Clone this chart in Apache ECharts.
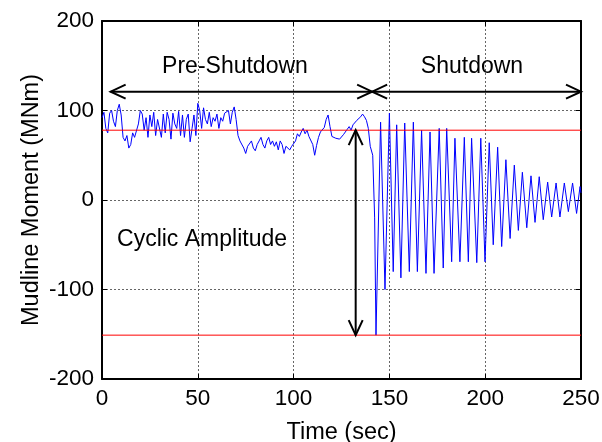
<!DOCTYPE html>
<html>
<head>
<meta charset="utf-8">
<script src="https://cdn.jsdelivr.net/npm/echarts@6/dist/echarts.min.js"></script>
<style>
  html, body { margin: 0; padding: 0; background: #fff; }
  #chart { width: 602px; height: 442px; }
</style>
</head>
<body>
<div id="chart"></div>
<script>
// pre-shutdown moment, one value per second (t = 0..140)
const preValues = [
  92, 98, 80, 75, 97, 100, 88, 82, 100, 107,
  95, 70, 66, 72, 58, 62, 75, 70, 68, 85,
  100, 96, 78, 92, 70, 95, 82, 98, 72, 90,
  92, 70, 96, 75, 98, 90, 68, 97, 85, 80,
  99, 72, 95, 70, 90, 96, 65, 80, 95, 72,
  108, 100, 80, 103, 90, 85, 98, 82, 92, 88,
  96, 80, 92, 88, 97, 95, 100, 85, 98, 104,
  90, 72, 66, 64, 58, 52, 60, 62, 66, 58,
  55, 62, 66, 70, 62, 58, 66, 70, 62, 66,
  60, 65, 56, 66, 62, 52, 60, 62, 56, 60,
  58, 66, 74, 71, 76, 80, 74, 78, 71, 70,
  62, 50, 61, 70, 76, 74, 81, 90, 95, 82,
  71, 72, 69, 70, 68, 70, 73, 75, 79, 82,
  78, 84, 82, 89, 90, 93, 96, 93, 89, 80,
  60
];

// shutdown oscillation: turning points (sec, MNm)
const shutTimes = [
  141.3, 142.3, 143.0, 145.4, 147.7, 150.0, 152.0, 153.8, 156.0, 158.0,
  160.4, 162.5, 164.6, 166.8, 169.1, 171.2, 173.3, 176.0, 178.1, 179.9,
  182.5, 184.2, 186.8, 189.1, 191.2, 192.9, 195.6, 197.7, 199.9, 202.1,
  204.2, 206.5, 208.6, 210.8, 213.0, 215.2, 217.3, 219.4, 221.7, 223.9,
  226.0, 228.2, 230.3, 232.6, 234.7, 237.0, 239.0, 241.3, 243.4, 245.6,
  247.7, 249.5, 250.0
];
const shutValues = [
  50, -20, -151, 87, -100, 97, -80, 84, -87, 86,
  -80, 87, -80, 78, -82, 76, -82, 80, -76, 80,
  -69, 69, -69, 70, -69, 69, -70, 69, -69, 64,
  -50, 59, -52, 45, -43, 39, -34, 31, -31, 27,
  -25, 26, -22, 20, -19, 19, -19, 19, -13, 19,
  -15, 15, 8
];

// reference levels
const meanLevel = 78;
const minLevel = -151;

// annotation arrows [x1, y1, x2, y2]
const arrowSegs = [
  [4.5, 121, 141, 121],
  [141, 121, 250, 121],
  [132.4, 78, 132.4, -151]
];
const noteTexts = ["Pre-Shutdown", "Shutdown", "Cyclic Amplitude"];
const noteX = [69.4, 193.1, 52.2];
const noteY = [148.6, 148.6, -44.7];

const xTicks = [0, 50, 100, 150, 200, 250];
const yTicks = [-200, -100, 0, 100, 200];

let signal = [];
preValues.forEach(function(v, i) {
  signal.push([i, v]);
});
shutTimes.forEach(function(t, i) {
  signal.push([t, shutValues[i]]);
});

const font = "Liberation Sans, Arial, sans-serif";
const myChart = echarts.init(document.getElementById("chart"));

function renderArrow(params, api) {
  let p1 = api.coord([api.value(0), api.value(1)]);
  let p2 = api.coord([api.value(2), api.value(3)]);
  let dx = p2[0] - p1[0];
  let dy = p2[1] - p1[1];
  let len = Math.sqrt(dx * dx + dy * dy);
  let ux = dx / len, uy = dy / len;
  let hl = 15, hw = 7;
  let style = { stroke: "#000", lineWidth: 2, fill: null };
  function head(tip, sx, sy) {
    return {
      type: "polyline",
      shape: {
        points: [
          [tip[0] + sx * hl - uy * hw, tip[1] + sy * hl + ux * hw],
          tip,
          [tip[0] + sx * hl + uy * hw, tip[1] + sy * hl - ux * hw]
        ]
      },
      style: style
    };
  }
  return {
    type: "group",
    children: [
      { type: "line", shape: { x1: p1[0], y1: p1[1], x2: p2[0], y2: p2[1] }, style: style },
      head(p1, ux, uy),
      head(p2, -ux, -uy)
    ]
  };
}

function renderNote(params, api) {
  let p = api.coord([api.value(0), api.value(1)]);
  return {
    type: "text",
    x: p[0],
    y: p[1],
    style: {
      text: noteTexts[params.dataIndex],
      fontSize: 23,
      fontFamily: font,
      fill: "#000",
      align: "center",
      verticalAlign: "middle"
    }
  };
}

let option = {
  backgroundColor: "#fff",
  animation: false,
  grid: { left: 102, right: 21, top: 21, bottom: 63, outerBoundsMode: "none" },
  xAxis: [
    {
      type: "value",
      min: xTicks[0],
      max: xTicks[xTicks.length - 1],
      interval: 50,
      name: "Time (sec)",
      nameLocation: "middle",
      nameGap: 42,
      nameTextStyle: { fontSize: 23.5, fontFamily: font, color: "#000" },
      axisLine: { show: true, onZero: false, lineStyle: { color: "#000", width: 2 } },
      axisTick: { inside: true, length: 5, lineStyle: { color: "#000" } },
      axisLabel: { fontSize: 22.5, fontFamily: font, color: "#000", margin: 8 },
      splitLine: { show: true, lineStyle: { color: "#666", type: [2, 2] } }
    },
    {
      type: "value",
      position: "top",
      min: xTicks[0],
      max: xTicks[xTicks.length - 1],
      interval: 50,
      axisLine: { show: true, onZero: false, lineStyle: { color: "#000", width: 2 } },
      axisTick: { inside: true, length: 5, lineStyle: { color: "#000" } },
      axisLabel: { show: false },
      splitLine: { show: false }
    }
  ],
  yAxis: [
    {
      type: "value",
      min: yTicks[0],
      max: yTicks[yTicks.length - 1],
      interval: 100,
      name: "Mudline Moment (MNm)",
      nameLocation: "middle",
      nameGap: 58,
      nameMoveOverlap: false,
      nameTextStyle: { fontSize: 23.5, fontFamily: font, color: "#000" },
      axisLine: { show: true, onZero: false, lineStyle: { color: "#000", width: 2 } },
      axisTick: { inside: true, length: 5, lineStyle: { color: "#000" } },
      axisLabel: { fontSize: 22.5, fontFamily: font, color: "#000", margin: 8 },
      splitLine: { show: true, lineStyle: { color: "#666", type: [2, 2] } }
    },
    {
      type: "value",
      position: "right",
      min: yTicks[0],
      max: yTicks[yTicks.length - 1],
      interval: 100,
      axisLine: { show: true, onZero: false, lineStyle: { color: "#000", width: 2 } },
      axisTick: { inside: true, length: 5, lineStyle: { color: "#000" } },
      axisLabel: { show: false },
      splitLine: { show: false }
    }
  ],
  series: [
    {
      type: "line",
      data: [[xTicks[0], meanLevel], [xTicks[xTicks.length - 1], meanLevel]],
      symbol: "none",
      silent: true,
      lineStyle: { color: "#ff0000", width: 1 },
      z: 3
    },
    {
      type: "line",
      data: [[xTicks[0], minLevel], [xTicks[xTicks.length - 1], minLevel]],
      symbol: "none",
      silent: true,
      lineStyle: { color: "#ff0000", width: 1 },
      z: 3
    },
    {
      type: "line",
      data: signal,
      symbol: "none",
      lineStyle: { color: "#0000ff", width: 1 },
      z: 2
    },
    {
      type: "custom",
      renderItem: renderArrow,
      data: arrowSegs,
      clip: false,
      z: 5
    },
    {
      type: "custom",
      renderItem: renderNote,
      data: noteX.map(function(x, i) { return [x, noteY[i]]; }),
      z: 6
    }
  ]
};

myChart.setOption(option, true);
</script>
</body>
</html>
